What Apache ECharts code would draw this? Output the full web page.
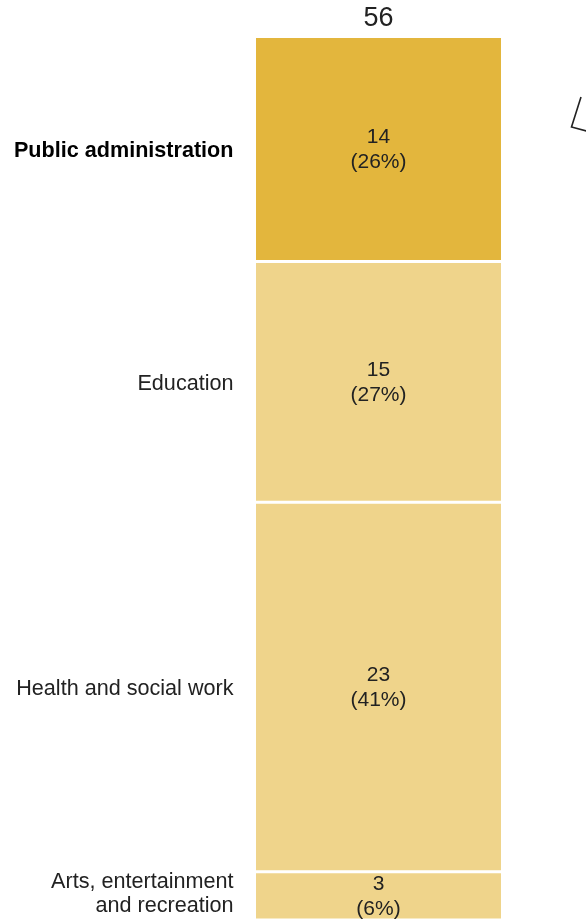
<!DOCTYPE html>
<html>
<head>
<meta charset="utf-8">
<script src="https://cdn.jsdelivr.net/npm/echarts@6/dist/echarts.min.js"></script>
<style>
  html, body { margin: 0; padding: 0; background: #fff; }
  #chart { width: 586px; height: 920px; }
</style>
</head>
<body>
<div id="chart"></div>
<script>
// Employment by sector, single stacked column
const categories = ['Public administration', 'Education', 'Health and social work', 'Arts, entertainment\nand recreation'];
const values = [14, 15, 23, 3];
const shares = ['26%', '27%', '41%', '6%'];
const highlighted = [true, false, false, false];
const total = 56;

const FONT = '"Liberation Sans", Arial, sans-serif';
const DARK = '#E3B63D';
const LIGHT = '#EFD48B';
const TEXT = '#222';

const chart = echarts.init(document.getElementById('chart'), null, { renderer: 'canvas' });

const barWidth = 248;

chart.setOption({
  animation: false,
  grid: { left: 254.5, top: 36.5, width: barWidth, height: 886 },
  xAxis: { type: 'category', data: ['total'], show: false },
  yAxis: { type: 'value', inverse: true, min: 0, max: 55, show: false },
  series: categories.map((name, i) => ({
    type: 'bar',
    name: name,
    stack: 'sector',
    barWidth: '100%',
    data: [values[i]],
    itemStyle: {
      color: highlighted[i] ? DARK : LIGHT,
      borderColor: '#fff',
      borderWidth: 1.5
    },
    label: {
      show: true,
      position: 'inside',
      offset: [0, 1],
      formatter: () => values[i] + '\n(' + shares[i] + ')',
      fontFamily: FONT,
      fontSize: 21,
      lineHeight: 25,
      color: TEXT
    }
  }))
});

// Category names to the left of each segment, plus the column total on top
const graphics = [];
let acc = 0;
categories.forEach((name, i) => {
  const mid = acc + values[i] / 2;
  acc += values[i];
  const p = chart.convertToPixel({ gridIndex: 0 }, [0, mid]);
  const multiLine = name.indexOf('\n') >= 0;
  graphics.push({
    type: 'text',
    x: p[0] - barWidth / 2 - 21,
    y: p[1] + (multiLine ? -1.5 : 2),
    style: {
      text: name,
      align: 'right',
      verticalAlign: 'middle',
      fontFamily: FONT,
      fontSize: 21.6,
      lineHeight: 24,
      fontWeight: highlighted[i] ? 'bold' : 'normal',
      fill: highlighted[i] ? '#000' : TEXT
    }
  });
});
const columnTop = chart.convertToPixel({ gridIndex: 0 }, [0, 0]);
graphics.push({
  type: 'text',
  x: columnTop[0],
  y: columnTop[1] - 17.5,
  style: {
    text: String(total),
    align: 'center',
    verticalAlign: 'middle',
    fontFamily: FONT,
    fontSize: 27,
    fill: TEXT
  }
});
// Corner pointer stroke at the upper right
graphics.push({
  type: 'polyline',
  shape: { points: [[581, 97], [571.5, 127], [590, 132]] },
  style: { stroke: '#222', lineWidth: 1.6, fill: null }
});
chart.setOption({ graphic: graphics });
</script>
</body>
</html>
